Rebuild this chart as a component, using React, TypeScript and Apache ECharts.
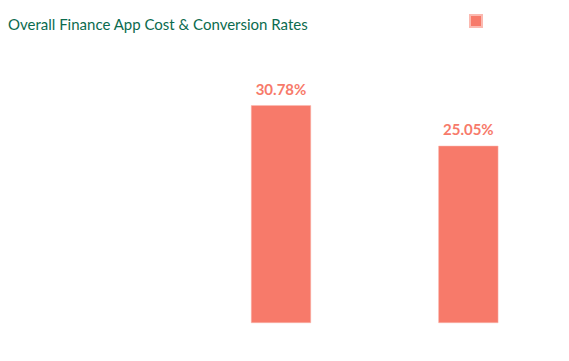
import React, { useEffect, useRef } from "react";
import * as echarts from "echarts";

const categories = ["Overall", "Cost", "Conversion"];
const values: (number | null)[] = [null, 30.78, 25.05];
const seriesName = " ";

export default function App() {
  const ref = useRef<HTMLDivElement>(null);
  useEffect(() => {
    const chart = echarts.init(ref.current!, null, { renderer: "svg" });
    chart.setOption({
      animation: false,
      title: {
        text: "Overall Finance App Cost & Conversion Rates",
        left: 3,
        top: 11,
        textStyle: { color: "#0b6b4e", fontSize: 15, fontWeight: "normal", fontFamily: "Lato" },
      },
      legend: {
        left: 469,
        top: 14,
        itemWidth: 12,
        itemHeight: 12,
        padding: 0,
        icon: "rect",
        data: [seriesName],
        textStyle: { fontSize: 12 },
      },
      grid: { left: -5, right: 7, top: 40, bottom: 38 },
      xAxis: {
        type: "category",
        data: categories,
        axisLine: { show: false },
        axisTick: { show: false },
        axisLabel: { show: false },
      },
      yAxis: {
        type: "value",
        min: 0,
        max: 40,
        show: false,
        splitLine: { show: false },
      },
      series: [
        {
          name: seriesName,
          type: "bar",
          data: values,
          barWidth: 60,
          itemStyle: { color: "#f77a6a", borderColor: "#fbb9b0", borderWidth: 0.5 },
          label: {
            show: true,
            position: "top",
            distance: 9,
            formatter: "{c}%",
            color: "#f77a6a",
            fontSize: 15,
            fontWeight: "bold",
            fontFamily: "Lato",
          },
        },
      ],
    });
    return () => chart.dispose();
  }, []);
  return <div ref={ref} style={{ width: 569, height: 361, margin: -8 }} />;
}
